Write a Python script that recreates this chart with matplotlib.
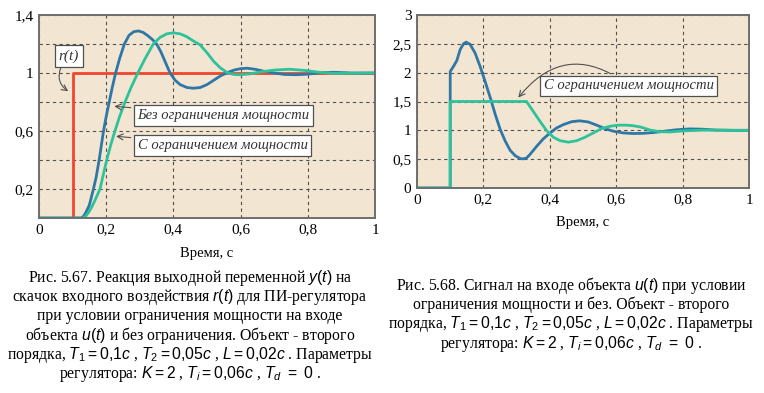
import matplotlib
matplotlib.use("Agg")
import matplotlib.pyplot as plt

plt.rcParams['font.family'] = 'Liberation Serif'
plt.rcParams['mathtext.fontset'] = 'custom'
plt.rcParams['mathtext.rm'] = 'Liberation Sans'
plt.rcParams['mathtext.it'] = 'Liberation Sans:italic'

# --- data ---
# left: output y(t)
t_ref = [0, 0.1, 0.1, 1.0]
y_ref = [0, 0, 1, 1]

t_free = [0, 0.125, 0.132, 0.14, 0.15, 0.162, 0.170, 0.179, 0.192, 0.200, 0.209, 0.218,
          0.228, 0.240, 0.254, 0.268, 0.282, 0.296, 0.310, 0.325, 0.338, 0.350, 0.362,
          0.375, 0.390, 0.405, 0.420, 0.440, 0.460, 0.480, 0.500, 0.520, 0.540, 0.558,
          0.580, 0.600, 0.620, 0.645, 0.670, 0.700, 0.730, 0.765, 0.800, 0.840, 0.880,
          0.930, 1.0]
y_free = [0, 0, 0.01, 0.04, 0.09, 0.20, 0.28, 0.40, 0.60, 0.70, 0.80, 0.90,
          1.00, 1.10, 1.20, 1.26, 1.285, 1.29, 1.28, 1.255, 1.23, 1.20, 1.15,
          1.08, 1.00, 0.95, 0.92, 0.90, 0.895, 0.90, 0.92, 0.95, 0.98, 1.00,
          1.02, 1.03, 1.033, 1.025, 1.012, 1.00, 0.99, 0.988, 0.992, 1.002, 1.005,
          1.0, 1.0]

t_lim = [0, 0.130, 0.138, 0.148, 0.158, 0.170, 0.1815, 0.2015, 0.213, 0.226, 0.240,
         0.256, 0.274, 0.294, 0.316, 0.340, 0.360, 0.380, 0.400, 0.420, 0.440, 0.460,
         0.479, 0.500, 0.520, 0.540, 0.562, 0.580, 0.600, 0.630, 0.660, 0.700, 0.745,
         0.790, 0.830, 0.870, 0.920, 1.0]
y_lim = [0, 0, 0.01, 0.04, 0.08, 0.14, 0.20, 0.40, 0.50, 0.60, 0.70,
         0.80, 0.90, 1.00, 1.10, 1.20, 1.245, 1.27, 1.277, 1.27, 1.25, 1.22,
         1.195, 1.14, 1.08, 1.035, 1.00, 0.99, 0.988, 0.995, 1.008, 1.02, 1.026,
         1.018, 1.006, 0.998, 0.998, 1.0]

# right: input u(t)
tu_free = [0, 0.1, 0.1, 0.110, 0.120, 0.130, 0.140, 0.148, 0.160, 0.175, 0.190, 0.205,
           0.221, 0.236, 0.251, 0.266, 0.281, 0.296, 0.311, 0.320, 0.330, 0.340, 0.360,
           0.380, 0.400, 0.420, 0.441, 0.466, 0.490, 0.516, 0.541, 0.566, 0.591, 0.621,
           0.651, 0.680, 0.710, 0.742, 0.782, 0.822, 0.860, 0.900, 0.950, 1.0]
u_free = [0, 0, 2.02, 2.11, 2.21, 2.40, 2.50, 2.53, 2.49, 2.34, 2.11, 1.85,
          1.56, 1.27, 1.01, 0.81, 0.65, 0.56, 0.51, 0.505, 0.52, 0.58, 0.72,
          0.85, 0.95, 1.04, 1.10, 1.15, 1.165, 1.145, 1.09, 1.03, 0.985, 0.955,
          0.945, 0.948, 0.96, 0.983, 1.01, 1.025, 1.02, 1.005, 1.0, 1.0]

tu_lim = [0, 0.1, 0.1, 0.330, 0.350, 0.370, 0.391, 0.411, 0.431, 0.456, 0.481, 0.506,
          0.531, 0.556, 0.581, 0.606, 0.631, 0.650, 0.672, 0.702, 0.732, 0.762, 0.802,
          0.862, 1.0]
u_lim = [0, 0, 1.5, 1.5, 1.33, 1.16, 0.99, 0.88, 0.82, 0.795, 0.82, 0.88,
         0.955, 1.03, 1.07, 1.09, 1.09, 1.08, 1.06, 1.005, 0.975, 0.972, 0.99,
         1.004, 1.0]

x_ticks = [0, 0.2, 0.4, 0.6, 0.8, 1.0]
x_labels = ['0', '0,2', '0,4', '0,6', '0,8', '1']
yl_ticks = [0, 0.2, 0.4, 0.6, 0.8, 1.0, 1.2, 1.4]
yl_labels = ['', '0,2', '', '0,6', '', '1', '', '1,4']
yr_ticks = [0, 0.5, 1.0, 1.5, 2.0, 2.5, 3.0]
yr_labels = ['0', '0,5', '1', '1,5', '2', '2,5', '3']

caption_left = [
    "Рис. 5.67. Реакция выходной переменной $y(t)$ на",
    "скачок входного воздействия $r(t)$ для ПИ-регулятора",
    "при условии ограничения мощности на входе",
    "объекта $u(t)$ и без ограничения. Объект - второго",
    "порядка, $T_1 = 0{,}1c$ , $T_2 = 0{,}05c$ , $L = 0{,}02c$ . Параметры",
    "регулятора: $K = 2$ , $T_i = 0{,}06c$ , $T_d\\ =\\ 0$ .",
]
caption_right = [
    "Рис. 5.68. Сигнал на входе объекта $u(t)$ при условии",
    "ограничения мощности и без. Объект - второго",
    "порядка, $T_1 = 0{,}1c$ , $T_2 = 0{,}05c$ , $L = 0{,}02c$ . Параметры",
    "регулятора: $K = 2$ , $T_i = 0{,}06c$ , $T_d\\ =\\ 0$ .",
]

blue = '#2e77a6'
green = '#2ec29a'
red = '#f2452f'
bg = '#f2e6d2'
grid_c = '#505050'

W, H = 764, 393
fig = plt.figure(figsize=(W / 100, H / 100), dpi=100)


def px_axes(x0, y0, x1, y1):
    # axes from pixel box (top-left origin)
    return fig.add_axes([x0 / W, 1 - y1 / H, (x1 - x0) / W, (y1 - y0) / H])


def style(ax):
    ax.set_facecolor(bg)
    ax.grid(True, linestyle=(0, (3, 3)), color=grid_c, lw=0.8)
    ax.set_axisbelow(True)
    ax.tick_params(length=0, labelsize=11, pad=4)
    for s in ax.spines.values():
        s.set_color('#6e6e6e')
        s.set_linewidth(1.4)
    ax.set_xlim(0, 1)
    ax.set_xticks(x_ticks)
    ax.set_xticklabels(x_labels)


box = dict(boxstyle='square,pad=0.25', fc='white', ec='#505050', lw=0.9)
arr = dict(arrowstyle='->', color='#505050', lw=0.8)

# --- left chart ---
ax1 = px_axes(39, 15, 375, 218)
style(ax1)
ax1.set_ylim(0, 1.4)
ax1.set_yticks(yl_ticks)
ax1.set_yticklabels(yl_labels)
ax1.plot(t_ref, y_ref, color=red, lw=2.0)
ax1.plot(t_free, y_free, color=blue, lw=2.0)
ax1.plot(t_lim, y_lim, color=green, lw=2.0)

ax1.text(0.089, 1.117, 'r(t)', style='italic', fontsize=11, ha='center', va='center',
         color='#333333', bbox=box)
ax1.annotate('', xy=(0.094, 0.864), xytext=(0.068, 1.055),
             arrowprops=dict(arr, connectionstyle='arc3,rad=0.45'))
ax1.annotate('Без ограничения мощности', xy=(0.216, 0.772), xytext=(0.2935, 0.707),
             fontsize=10.5, style='italic', color='#333333', va='center', ha='left',
             bbox=box, arrowprops=arr)
ax1.annotate('С ограничением мощности', xy=(0.221, 0.565), xytext=(0.2935, 0.50),
             fontsize=10.5, style='italic', color='#333333', va='center', ha='left',
             bbox=box, arrowprops=arr)

# --- right chart ---
ax2 = px_axes(417, 15, 749, 188)
style(ax2)
ax2.set_ylim(0, 3)
ax2.set_yticks(yr_ticks)
ax2.set_yticklabels(yr_labels)
ax2.plot(tu_free, u_free, color=blue, lw=2.0)
ax2.plot(tu_lim, u_lim, color=green, lw=2.0)
ax2.annotate('С ограничением мощности', xy=(0.300, 1.53), xytext=(0.382, 1.774),
             fontsize=10.5, style='italic', color='#333333', va='center', ha='left',
             bbox=box, arrowprops=dict(arr, connectionstyle='arc3,rad=0.5'))

# axis labels
fig.text(207 / W, 1 - 254 / H, 'Время, с', ha='center', va='center', fontsize=10.5)
fig.text(583 / W, 1 - 222 / H, 'Время, с', ha='center', va='center', fontsize=10.5)

# captions
for i, line in enumerate(caption_left):
    fig.text(190 / W, 1 - (278 + 19.2 * i) / H, line, ha='center', va='center', fontsize=11.3)
for i, line in enumerate(caption_right):
    fig.text(571 / W, 1 - (286 + 19.2 * i) / H, line, ha='center', va='center', fontsize=11.3)

fig.savefig('out.png', dpi=100)
